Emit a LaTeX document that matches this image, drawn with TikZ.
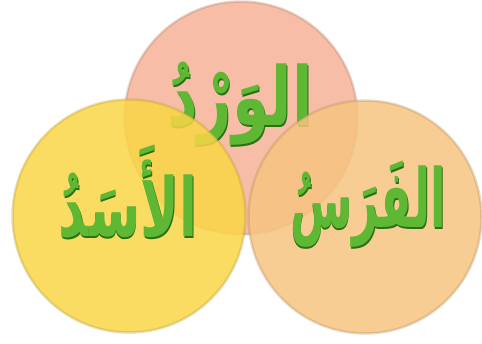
\documentclass[tikz,border=0pt]{standalone}
\usepackage{fontspec}
\usepackage{graphicx}
\usepackage{tikz}
\usetikzlibrary{positioning}
\TeXXeTstate=1
\newfontfamily\arabicfont[Script=Arabic]{DejaVu Sans}
\definecolor{rosefill}{RGB}{246,178,150}
\definecolor{lionfill}{RGB}{250,214,70}
\definecolor{horsefill}{RGB}{246,196,128}
\definecolor{wordgreen}{RGB}{94,184,52}
\definecolor{wordshade}{RGB}{42,112,22}
\newcommand{\tallword}[2]{\scalebox{#1}[1.4]{\beginR #2\endR}}

\begin{document}
\begin{tikzpicture}[
  x=1pt, y=-1pt,
  disc/.style={circle, minimum size=233pt, inner sep=0pt,
               fill opacity=0.85, line width=2.5pt, draw opacity=0.3},
  word/.style={font=\arabicfont\bfseries\fontsize{58}{62}\selectfont,
               text=wordgreen, inner sep=0pt},
  wordlow/.style={word, text=wordshade}
]
\useasboundingbox (0,0) rectangle (482,343);

% --- Top disc with its word ---
\node[disc, fill=rosefill, draw=rosefill!70!black] (rose) at (241,118) {};
\node[wordlow] at (240.8,105.5) {\tallword{1.03}{الوَرْدُ}};
\node[word] (roseword) at (240,103.5) {\tallword{1.03}{الوَرْدُ}};

% --- Lower discs ---
\node[disc, fill=lionfill, draw=lionfill!70!black] (lion) at (129,216) {};
\node[disc, fill=horsefill, draw=horsefill!70!black] (horse) at (365,217) {};

% --- Lower words ---
\node[wordlow] at (128.8,194) {\tallword{0.9}{الأَسَدُ}};
\node[word] (lionword) at (128,192) {\tallword{0.9}{الأَسَدُ}};
\node[wordlow] at (368.8,206) {\tallword{0.78}{الفَرَسُ}};
\node[word] (horseword) at (368,204) {\tallword{0.78}{الفَرَسُ}};

\end{tikzpicture}
\end{document}
